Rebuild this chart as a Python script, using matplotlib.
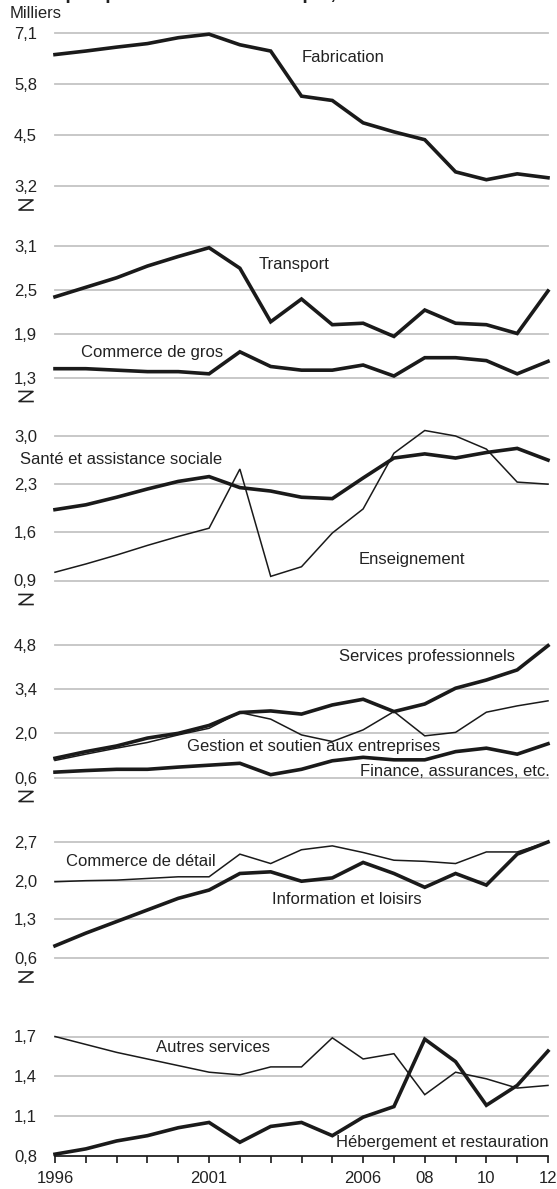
import matplotlib
matplotlib.use('Agg')
import matplotlib.pyplot as plt
from matplotlib import font_manager
from matplotlib.lines import Line2D

names = {f.name for f in font_manager.fontManager.ttflist}
FONT = 'Liberation Sans Narrow' if 'Liberation Sans Narrow' in names else 'Liberation Sans'
plt.rcParams['font.family'] = [FONT, 'DejaVu Sans']

# ---------------- data ----------------
years = list(range(1996, 2013))
year_labels = {1996: '1996', 2001: '2001', 2006: '2006', 2008: '08', 2010: '10', 2012: '12'}

fabrication = [6.55, 6.64, 6.74, 6.83, 6.98, 7.07, 6.80, 6.64, 5.49, 5.38, 4.81, 4.58, 4.38, 3.56, 3.36, 3.51, 3.41]
transport = [2.40, 2.53, 2.66, 2.82, 2.95, 3.07, 2.79, 2.06, 2.37, 2.02, 2.04, 1.86, 2.22, 2.04, 2.02, 1.90, 2.48]
commerce_gros = [1.42, 1.42, 1.40, 1.38, 1.38, 1.35, 1.65, 1.45, 1.40, 1.40, 1.47, 1.32, 1.57, 1.57, 1.53, 1.35, 1.52]
sante = [1.93, 2.00, 2.11, 2.23, 2.34, 2.41, 2.25, 2.20, 2.11, 2.09, 2.39, 2.68, 2.74, 2.68, 2.76, 2.82, 2.65]
enseignement = [1.02, 1.14, 1.27, 1.41, 1.54, 1.66, 2.52, 0.96, 1.10, 1.59, 1.94, 2.75, 3.08, 3.00, 2.81, 2.33, 2.30]
services_pro = [1.21, 1.42, 1.60, 1.85, 2.00, 2.25, 2.66, 2.71, 2.61, 2.90, 3.08, 2.69, 2.93, 3.43, 3.69, 4.01, 4.78]
gestion = [1.14, 1.34, 1.53, 1.71, 1.95, 2.16, 2.66, 2.45, 1.95, 1.74, 2.11, 2.69, 1.92, 2.03, 2.67, 2.87, 3.03]
finance = [0.77, 0.82, 0.86, 0.86, 0.93, 0.99, 1.05, 0.69, 0.86, 1.13, 1.24, 1.16, 1.16, 1.42, 1.53, 1.34, 1.67]
commerce_detail = [1.98, 2.00, 2.01, 2.04, 2.07, 2.07, 2.48, 2.31, 2.56, 2.63, 2.51, 2.37, 2.35, 2.31, 2.52, 2.52, 2.70]
information = [0.82, 1.05, 1.26, 1.47, 1.68, 1.83, 2.13, 2.16, 1.99, 2.05, 2.33, 2.13, 1.88, 2.13, 1.92, 2.48, 2.70]
autres_services = [1.70, 1.64, 1.58, 1.53, 1.48, 1.43, 1.41, 1.47, 1.47, 1.69, 1.53, 1.57, 1.26, 1.43, 1.38, 1.31, 1.33]
hebergement = [0.81, 0.85, 0.91, 0.95, 1.01, 1.05, 0.90, 1.02, 1.05, 0.95, 1.09, 1.17, 1.68, 1.51, 1.18, 1.33, 1.59]

ticks1 = [3.2, 4.5, 5.8, 7.1]
ticks2 = [1.3, 1.9, 2.5, 3.1]
ticks3 = [0.9, 1.6, 2.3, 3.0]
ticks4 = [0.6, 2.0, 3.4, 4.8]
ticks5 = [0.6, 1.3, 2.0, 2.7]
ticks6 = [0.8, 1.1, 1.4, 1.7]

# ---------------- layout ----------------
W, H = 557, 1189
fig = plt.figure(figsize=(W / 100, H / 100), dpi=100)
FS = 14 if FONT.endswith('Narrow') else 12
THICK, THIN = 2.6, 1.1
LC = '#1a1a1a'
TC = '#222222'
GRID = '#c4c4c4'
X0, X1 = 55, 548

panels = [
    (33, 186, ticks1, [(fabrication, THICK)],
     [('Fabrication', 302, 58)]),
    (245.5, 377.5, ticks2, [(transport, THICK), (commerce_gros, THICK)],
     [('Transport', 259, 265), ('Commerce de gros', 81, 352)]),
    (436, 580.5, ticks3, [(enseignement, THIN), (sante, THICK)],
     [('Santé et assistance sociale', 20, 460), ('Enseignement', 359, 559)]),
    (645, 777.5, ticks4, [(gestion, THIN), (services_pro, THICK), (finance, THICK)],
     [('Services professionnels', 339, 657), ('Gestion et soutien aux entreprises', 187, 747),
      ('Finance, assurances, etc.', 360, 771)]),
    (842, 958, ticks5, [(commerce_detail, THIN), (information, THICK)],
     [('Commerce de détail', 66, 862), ('Information et loisirs', 272, 900)]),
    (1036.5, 1155.5, ticks6, [(autres_services, THIN), (hebergement, THICK)],
     [('Autres services', 156, 1048), ('Hébergement et restauration', 336, 1143)]),
]

for i, (top, bot, ticks, series, labels) in enumerate(panels):
    ax = fig.add_axes([X0 / W, 1 - bot / H, (X1 - X0) / W, (bot - top) / H])
    ax.set_xlim(years[0], years[-1])
    ax.set_ylim(ticks[0], ticks[-1])
    for t in ticks:
        ax.axhline(t, color=GRID, lw=1.3, zorder=1, clip_on=False)
    for vals, lw in series:
        ax.plot(years, vals, color=LC, lw=lw, solid_joinstyle='miter', clip_on=False, zorder=3)
    ax.set_yticks(ticks)
    ax.set_yticklabels([f'{t:.1f}'.replace('.', ',') for t in ticks], fontsize=FS, color=TC)
    ax.tick_params(axis='y', length=0, pad=13)
    for s in ax.spines.values():
        s.set_visible(False)
    for (txt, x, y) in labels:
        fig.text(x / W, 1 - y / H, txt, fontsize=FS, ha='left', va='center', color=TC)
    last = i == len(panels) - 1
    if last:
        ax.spines['bottom'].set_visible(True)
        ax.spines['bottom'].set_color(LC)
        ax.spines['bottom'].set_linewidth(1.2)
        ax.set_xticks(years)
        ax.set_xticklabels([year_labels.get(y, '') for y in years], fontsize=FS, color=TC)
        ax.tick_params(axis='x', direction='out', length=5, width=1.2, color=LC, pad=6)
    else:
        ax.set_xticks([])
        # axis break mark
        ym = bot + 19
        xs = [19 / W, 33 / W, 19 / W, 33 / W]
        ys = [1 - (ym - 5) / H, 1 - (ym - 5) / H, 1 - (ym + 5) / H, 1 - (ym + 5) / H]
        fig.add_artist(Line2D(xs, ys, color=TC, lw=1.2, transform=fig.transFigure))

fig.text(36 / W, 1 - 14 / H, 'Milliers', fontsize=FS, ha='center', va='center', color=TC)
fig.text(440 / W, 1 - 3 / H, 'Emploi par secteur économique, Saskatoon', fontsize=FS + 2,
         fontweight='bold', ha='right', va='bottom', color=TC)

fig.savefig('out.png', dpi=100)
